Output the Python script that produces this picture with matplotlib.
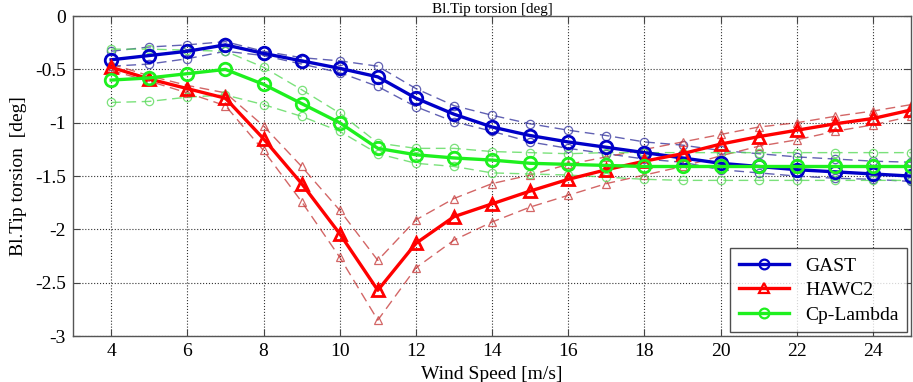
import numpy as np
import matplotlib
matplotlib.use('Agg')
import matplotlib.pyplot as plt

wind_speed = np.arange(4, 26)

gast = [-0.41, -0.37, -0.33, -0.27, -0.35, -0.42, -0.49, -0.57, -0.77, -0.92, -1.04,
        -1.12, -1.18, -1.23, -1.28, -1.33, -1.38, -1.41, -1.44, -1.46, -1.48, -1.50]
gast_hi = [-0.33, -0.29, -0.27, -0.24, -0.33, -0.39, -0.42, -0.47, -0.68, -0.84, -0.93,
           -1.01, -1.07, -1.12, -1.18, -1.21, -1.26, -1.29, -1.32, -1.34, -1.36, -1.37]
gast_lo = [-0.47, -0.45, -0.40, -0.33, -0.37, -0.45, -0.53, -0.66, -0.85, -0.99, -1.08,
           -1.18, -1.24, -1.29, -1.34, -1.37, -1.44, -1.47, -1.50, -1.52, -1.53, -1.55]

hawc2 = [-0.48, -0.59, -0.68, -0.77, -1.15, -1.57, -2.04, -2.57, -2.13, -1.88, -1.76,
         -1.64, -1.53, -1.44, -1.36, -1.29, -1.20, -1.13, -1.07, -1.01, -0.96, -0.88]
hawc2_hi = [-0.45, -0.56, -0.65, -0.72, -1.03, -1.41, -1.82, -2.29, -1.91, -1.71, -1.57,
            -1.49, -1.39, -1.32, -1.25, -1.18, -1.11, -1.04, -1.00, -0.94, -0.89, -0.83]
hawc2_lo = [-0.51, -0.61, -0.72, -0.84, -1.26, -1.74, -2.26, -2.85, -2.36, -2.10, -1.93,
            -1.79, -1.68, -1.57, -1.49, -1.41, -1.31, -1.22, -1.16, -1.08, -1.02, -0.94]

cplambda = [-0.60, -0.58, -0.54, -0.50, -0.64, -0.82, -1.00, -1.24, -1.30, -1.33, -1.35,
            -1.38, -1.39, -1.40, -1.41, -1.41, -1.41, -1.41, -1.41, -1.41, -1.41, -1.41]
cplambda_hi = [-0.31, -0.31, -0.32, -0.33, -0.48, -0.69, -0.91, -1.19, -1.24, -1.24, -1.27,
               -1.28, -1.29, -1.28, -1.28, -1.28, -1.28, -1.28, -1.28, -1.28, -1.28, -1.28]
cplambda_lo = [-0.81, -0.80, -0.76, -0.74, -0.83, -0.94, -1.08, -1.29, -1.38, -1.41, -1.47,
               -1.48, -1.49, -1.51, -1.53, -1.54, -1.54, -1.54, -1.54, -1.54, -1.54, -1.54]

xticks = np.arange(4, 25, 2)
yticks = [0, -0.5, -1, -1.5, -2, -2.5, -3]
ytick_labels = ['0', '-0.5', '-1', '-1.5', '-2', '-2.5', '-3']

plt.rcParams['font.family'] = ['Liberation Serif', 'DejaVu Serif']

fig = plt.figure(figsize=(9.13, 3.82), dpi=100)
ax = fig.add_axes([0.080, 0.120, 0.918, 0.838])

series = [
    ('GAST', gast, gast_hi, gast_lo, '#0000c8', '#3a3aa0', 'o'),
    ('HAWC2', hawc2, hawc2_hi, hawc2_lo, '#ff0000', '#c84040', '^'),
    ('Cp-Lambda', cplambda, cplambda_hi, cplambda_lo, '#1ef01e', '#5ada5a', 'o'),
]

# scatter band first, mean curves on top
for name, mean, hi, lo, color, band_color, marker in series:
    for band in (hi, lo):
        ax.plot(wind_speed, band, color=band_color, alpha=0.8, lw=1.0, ls=(0, (7, 4)),
                marker=marker, ms=6, mfc='none', mew=0.9)
for name, mean, hi, lo, color, band_color, marker in series:
    ax.plot(wind_speed, mean, color=color, lw=2.4, marker=marker, ms=9,
            mfc='none', mew=2.0, label=name)

ax.set_xlim(3, 25)
ax.set_ylim(-3, 0)
ax.set_xticks(xticks)
ax.set_yticks(yticks)
ax.set_yticklabels(ytick_labels)
ax.tick_params(direction='in', top=True, right=True, labelsize=14, length=5,
               color='#444444', pad=5)
ax.grid(True, color='#333333', ls=':', lw=0.8)
for sp in ax.spines.values():
    sp.set_color('#555555')
    sp.set_linewidth(1.0)

ax.set_title('Bl.Tip torsion [deg]', fontsize=11, pad=2)
ax.set_xlabel('Wind Speed [m/s]', fontsize=14, labelpad=4)
ax.set_ylabel('Bl.Tip torsion  [deg]', fontsize=14, labelpad=6)

leg = ax.legend(loc='lower right', fontsize=14, frameon=True, fancybox=False,
                edgecolor='#222222', handlelength=2.6, borderpad=0.45,
                labelspacing=0.35, borderaxespad=0.2)
leg.get_frame().set_linewidth(1.0)
for line in leg.get_lines():
    line.set_markersize(7)
    line.set_markeredgewidth(1.6)

fig.savefig('out.png', dpi=100)
